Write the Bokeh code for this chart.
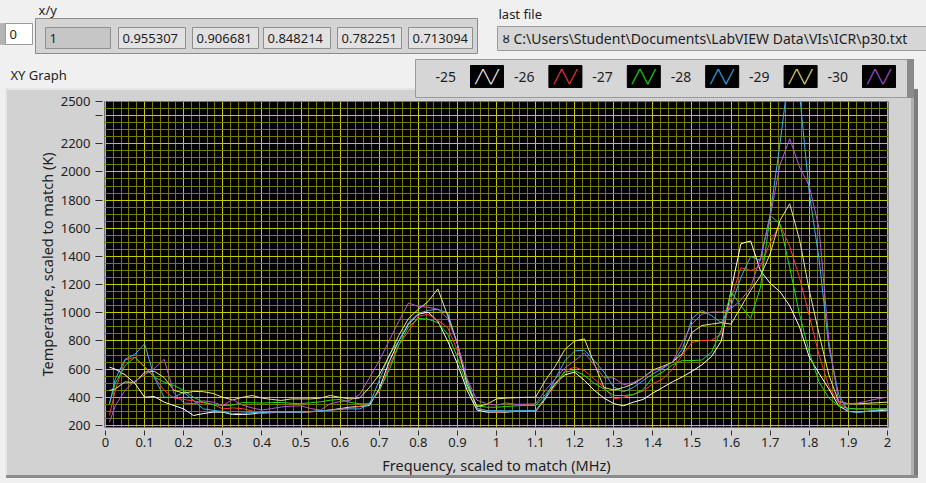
from bokeh.plotting import figure
from bokeh.models import Range1d, FixedTicker, NumeralTickFormatter
from bokeh.core.properties import value
from bokeh.embed import file_html
from bokeh.resources import INLINE

# ---------------- data ----------------
freq = [0.01, 0.025, 0.05, 0.075, 0.1, 0.125, 0.15, 0.175, 0.2, 0.225,
        0.25, 0.275, 0.3, 0.325, 0.35, 0.375, 0.4, 0.425, 0.45, 0.475,
        0.5, 0.525, 0.55, 0.575, 0.6, 0.625, 0.65, 0.675, 0.7, 0.725,
        0.75, 0.775, 0.8, 0.825, 0.85, 0.875, 0.9, 0.925, 0.95, 0.975,
        1.0, 1.025, 1.05, 1.075, 1.1, 1.125, 1.15, 1.175, 1.2, 1.225,
        1.25, 1.275, 1.3, 1.325, 1.35, 1.375, 1.4, 1.425, 1.45, 1.475,
        1.5, 1.525, 1.55, 1.575, 1.6, 1.625, 1.65, 1.675, 1.7, 1.725,
        1.75, 1.775, 1.8, 1.825, 1.85, 1.875, 1.9, 1.925, 1.95, 1.975,
        2.0]

temp_m25 = [614, 600, 560, 500, 401, 406, 366, 342, 318, 271,
            285, 295, 295, 278, 278, 282, 293, 295, 295, 295,
            295, 298, 303, 310, 320, 330, 336, 342, 460, 650,
            800, 920, 990, 1005, 940, 800, 638, 449, 310, 295,
            295, 295, 300, 300, 300, 390, 496, 560, 579, 520,
            450, 395, 355, 340, 366, 385, 430, 470, 510, 545,
            585, 630, 690, 800, 1160, 1490, 1510, 1300, 1210, 1150,
            1050, 900, 685, 570, 460, 340, 300, 295, 302, 305,
            310]

temp_m26 = [271, 450, 665, 685, 620, 543, 449, 395, 385, 375,
            362, 350, 318, 325, 320, 303, 285, 290, 295, 295,
            295, 298, 303, 308, 315, 325, 335, 360, 440, 620,
            770, 870, 975, 990, 946, 895, 733, 520, 325, 305,
            295, 300, 302, 302, 302, 400, 480, 590, 614, 590,
            530, 470, 389, 400, 420, 445, 496, 530, 600, 700,
            790, 803, 805, 850, 1100, 1320, 1300, 1330, 1500, 1630,
            1470, 1250, 980, 700, 480, 360, 320, 318, 318, 318,
            318]

temp_m27 = [354, 500, 625, 685, 614, 543, 508, 484, 449, 401,
            366, 348, 342, 345, 363, 362, 359, 363, 364, 358,
            355, 362, 368, 380, 385, 365, 354, 354, 450, 590,
            770, 900, 960, 955, 930, 850, 685, 472, 340, 330,
            330, 335, 340, 342, 342, 420, 500, 580, 590, 555,
            500, 460, 413, 413, 420, 455, 543, 580, 630, 661,
            661, 665, 720, 880, 1150, 1050, 960, 1180, 1690, 1632,
            1320, 990, 720, 510, 395, 340, 320, 318, 318, 318,
            318]

temp_m28 = [354, 530, 670, 705, 780, 540, 400, 401, 437, 378,
            318, 308, 300, 283, 288, 292, 295, 295, 295, 295,
            295, 300, 305, 310, 316, 318, 318, 350, 520, 700,
            800, 930, 995, 1017, 1025, 1000, 780, 520, 320, 306,
            306, 305, 305, 306, 306, 400, 530, 660, 730, 735,
            660, 580, 472, 440, 470, 520, 567, 605, 650, 740,
            960, 1017, 980, 930, 1050, 1250, 1400, 1372, 1700, 2200,
            2750, 2560, 1850, 1380, 760, 420, 300, 295, 300, 310,
            318]

temp_m29 = [449, 460, 510, 505, 579, 585, 540, 450, 430, 442,
            440, 428, 400, 382, 400, 413, 395, 385, 378, 389,
            389, 389, 395, 413, 400, 389, 395, 470, 560, 690,
            840, 960, 1025, 1080, 1170, 980, 780, 490, 335, 350,
            389, 395, 398, 400, 401, 520, 620, 740, 800, 815,
            640, 470, 452, 470, 496, 540, 595, 620, 650, 709,
            860, 910, 920, 930, 920, 1040, 1159, 1260, 1419, 1656,
            1774, 1520, 1159, 850, 560, 370, 355, 354, 358, 362,
            366]

temp_m30 = [224, 340, 450, 515, 560, 605, 670, 430, 360, 355,
            375, 366, 342, 385, 345, 325, 310, 320, 332, 338,
            340, 320, 310, 355, 370, 378, 420, 540, 660, 800,
            940, 1070, 1045, 1040, 1025, 960, 780, 530, 380, 354,
            345, 360, 350, 352, 354, 450, 530, 610, 660, 715,
            630, 540, 538, 490, 505, 540, 590, 610, 650, 790,
            920, 990, 1005, 1005, 1030, 1090, 1180, 1390, 1680, 2050,
            2236, 2035, 1900, 1600, 800, 370, 354, 360, 375, 390,
            401]

series_names = ["-25", "-26", "-27", "-28", "-29", "-30"]
series_values = [temp_m25, temp_m26, temp_m27, temp_m28, temp_m29, temp_m30]
series_colors = ["#ffffff", "#ff3c3c", "#1ee01e", "#3cb4f0", "#e6e68c", "#b45adc"]

x_ticks = [0, 0.1, 0.2, 0.3, 0.4, 0.5, 0.6, 0.7, 0.8, 0.9, 1.0,
           1.1, 1.2, 1.3, 1.4, 1.5, 1.6, 1.7, 1.8, 1.9, 2.0]
y_ticks = [200, 400, 600, 800, 1000, 1200, 1400, 1600, 1800, 2000, 2200, 2400, 2500]

xy_values = ["1", "0.955307", "0.906681", "0.848214", "0.782251", "0.713094"]
index_value = "0"
file_path = r"C:\Users\Student\Documents\LabVIEW Data\VIs\ICR\p30.txt"

# ---------------- styling constants ----------------
W, H = 926, 483
FL, FR = 104, 888          # plotting-area left/right (page px)
FT, FB = 101, 427          # plotting-area top/bottom (page px)
FONT = "Noto Sans"
TXT = "#1e1e1e"
PANEL = "#f0f0f0"
FRAME = "#d2d2d2"

p = figure(width=W, height=H, output_backend="svg", toolbar_location=None,
           x_range=Range1d(-0.0026, 2.0026), y_range=Range1d(186, 2500),
           background_fill_color="black", border_fill_color=FRAME,
           min_border_left=FL, min_border_right=W - FR,
           min_border_top=FT, min_border_bottom=H - FB,
           title_location=None)
p.outline_line_color = None

x_minor = [round(i * 0.02, 2) for i in range(101)]
y_minor = [200 + 50 * i for i in range(47)]
xt = FixedTicker(ticks=x_ticks, minor_ticks=x_minor)
yt = FixedTicker(ticks=y_ticks, minor_ticks=y_minor)
p.xaxis.ticker = xt
p.yaxis.ticker = yt
p.xgrid.ticker = xt
p.ygrid.ticker = yt
p.xaxis.formatter = NumeralTickFormatter(format="0.[0]")
p.yaxis.major_label_overrides = {2400: ""}

for g in (p.xgrid[0], p.ygrid[0]):
    g.grid_line_color = "#c8c800"
    g.grid_line_width = 1
    g.minor_grid_line_color = "#7a7a00"
    g.minor_grid_line_width = 1

for ax in (p.xaxis[0], p.yaxis[0]):
    ax.axis_line_color = None
    ax.minor_tick_line_color = None
    ax.major_tick_line_color = "#303030"
    ax.major_label_text_font = FONT
    ax.major_label_text_font_size = "13px"
    ax.major_label_text_color = TXT
    ax.axis_label_text_font = FONT
    ax.axis_label_text_font_size = "14.5px"
    ax.axis_label_text_font_style = "normal"
    ax.axis_label_text_color = TXT

p.xaxis.axis_label = "Frequency, scaled to match (MHz)"
p.yaxis.axis_label = "Temperature, scaled to match (K)"
p.xaxis.major_tick_in = -3
p.xaxis.major_tick_out = 8
p.xaxis.major_label_standoff = 2
p.xaxis.axis_label_standoff = 5
p.yaxis.major_tick_in = -2
p.yaxis.major_tick_out = 9
p.yaxis.major_label_standoff = 5
p.yaxis.axis_label_standoff = 1

for name, vals, col in zip(series_names, series_values, series_colors):
    p.line(freq, vals, line_color=col, line_width=1)

# ---------------- front-panel decorations in page-pixel space ----------------
p.extra_x_ranges = {"px": Range1d(FL, FR)}
p.extra_y_ranges = {"px": Range1d(FB, FT)}


def rect(x0, y0, x1, y1, fill, line=None):
    p.quad(left=[x0], right=[x1], top=[y0], bottom=[y1], fill_color=fill,
           line_color=line if line else fill, line_width=1,
           x_range_name="px", y_range_name="px", level="overlay")


def label(x, y, s, size="13px", color=TXT, align="left", font=FONT):
    p.text(x=[x], y=[y], text=[s], text_font=value(font), text_font_size=size,
           text_color=color, text_align=align, text_baseline="middle",
           x_range_name="px", y_range_name="px", level="overlay")


# panel background around the graph frame
rect(0, 0, W, 88, PANEL)
rect(0, 88, 5, H, PANEL)
rect(917, 88, W, H, PANEL)
rect(0, 477, W, H, PANEL)
# graph frame edges
rect(5, 88, 917, 89, "#e6e6e6")
rect(5, 88, 6, 477, "#e6e6e6")
rect(911, 89, 914, 477, "#b0b0b0")
rect(914, 89, 917, 477, "#7c7c7c")
rect(6, 475, 917, 477, "#8c8c8c")

# index control
rect(0, 23, 5, 44, "#b4b4b4")
rect(5, 23, 32, 44, "#ffffff", "#9a9a9a")
label(9, 33.5, index_value)
label(38, 9, "x/y")

# array indicator
rect(35, 18, 477, 53, "#d4d4d4", "#8c8c8c")
cells = [(45, 110), (118, 185), (192, 258), (263, 330), (337, 401), (408, 472)]
for i, ((c0, c1), v) in enumerate(zip(cells, xy_values)):
    rect(c0, 27, c1, 48, "#c6c6c6" if i == 0 else "#e2e2e2", "#8f8f8f")
    label(c0 + 4, 37.5, v)

# graph caption
label(10, 74, "XY Graph")

# path indicator
label(498, 13, "last file")
rect(497, 26, W, 50, "#d6d6d6", "#9a9a9a")
label(502, 38, "\u0223", size="12px", font="DejaVu Sans")
label(513, 38, file_path, size="14px")

# plot legend
rect(415, 59, 913, 97, "#d6d6d6", "#9a9a9a")
rect(907, 59, 913, 97, "#8a8a8a")
for i, (name, col) in enumerate(zip(series_names, series_colors)):
    lx = 435 + i * 78.4
    sw = 470 + i * 78.4
    label(lx, 76, name, size="14px")
    rect(sw, 65, sw + 33, 87, "#000000")
    label(sw + 16.5, 76, "\u2571\u2572\u2571", size="13px", color=col,
          align="center", font="DejaVu Sans Mono")

open("out.html", "w").write(file_html(p, INLINE))
